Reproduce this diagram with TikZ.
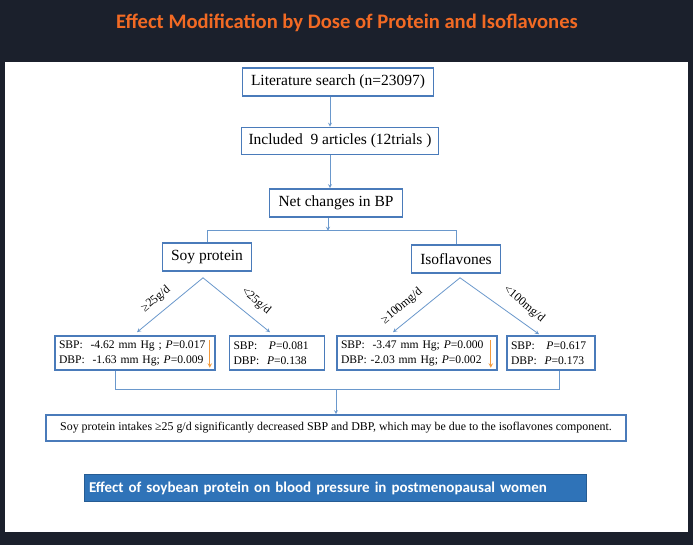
\documentclass[tikz,border=0pt]{standalone}
\usepackage{fontspec}
\setmainfont{Liberation Serif}
\newfontfamily\slidefont{Carlito}
\usepackage{tikz}
\usetikzlibrary{positioning,calc}
\definecolor{slidebg}{HTML}{1B202C}
\definecolor{titleorange}{HTML}{F26A24}
\definecolor{boxblue}{HTML}{4A7BBA}
\definecolor{lineblue}{HTML}{6A98CC}
\definecolor{bannerblue}{HTML}{2F73B8}
\definecolor{downorange}{HTML}{F39A3C}

\begin{document}
\begin{tikzpicture}[x=1pt,y=-1pt,
 box/.style={
      rectangle,
      draw=boxblue,
      line width=1.6pt,
      fill=white,
      align=center,
      inner sep=2pt,
      font=\fontsize{15.5}{17}\selectfont
   },
 res/.style={
      rectangle,
      draw=boxblue,
      line width=1.6pt,
      fill=white,
      align=left,
      inner xsep=4pt,
      inner ysep=1pt,
      minimum height=34pt,
      font=\fontsize{11.6}{15}\selectfont
   },
 dose/.style={
      font=\fontsize{12}{14}\selectfont,
      inner sep=0pt
   },
 line/.style={draw=lineblue, line width=0.8pt},
 arr/.style={line, -stealth},
 down/.style={draw=downorange, line width=1pt, -stealth}
 ]
 %slide
 \fill[slidebg] (0,0) rectangle (693,545);
 \fill[white] (5,62) rectangle (688,532);
 \useasboundingbox (0,0) rectangle (693,545);
 \node[font=\slidefont\bfseries\fontsize{20.6}{24}\selectfont, text=titleorange] (title) at (347,23) {Effect Modification by Dose of Protein and Isoflavones};

 %flow top
 \node[box, minimum width=191pt, minimum height=28pt] (lit) at (338,82) {Literature search (n=23097)};
 \node[box, minimum width=197pt, minimum height=27pt] (inc) at (340,141) {Included\ \ 9 articles (12trials )};
 \node[box, minimum width=133pt, minimum height=28pt] (net) at (336,203) {Net changes in BP};

 %groups
 \node[box, minimum width=89pt, minimum height=28pt] (soy) at (207,257) {Soy protein};
 \node[box, minimum width=89pt, minimum height=28pt] (iso) at (456,259) {Isoflavones};

 %results
 \node[res, text width=152pt] (b1) at (135,353) {SBP:\ \ -4.62 mm Hg ; \textit{P}=0.017\\DBP:\ \ -1.63 mm Hg; \textit{P}=0.009};
 \node[res, text width=87pt] (b2) at (277,353) {SBP:\ \ \ \textit{P}=0.081\\DBP:\ \ \textit{P}=0.138};
 \node[res, text width=152pt] (b3) at (417,353) {SBP:\ \ -3.47 mm Hg; \textit{P}=0.000\\DBP: -2.03 mm Hg; \textit{P}=0.002};
 \node[res, text width=80pt] (b4) at (551,353) {SBP:\ \ \ \textit{P}=0.617\\DBP:\ \ \textit{P}=0.173};

 %conclusion
 \node[box, minimum width=580pt, minimum height=26pt, font=\fontsize{11.9}{13}\selectfont] (conc) at (336,428) {Soy protein intakes ≥25 g/d significantly decreased SBP and DBP, which may be due to the isoflavones component.};
 \node[rectangle, fill=bannerblue, draw=bannerblue!80!black, line width=0.8pt, minimum width=502pt, minimum height=27pt, text width=492pt, align=left, text=white, font=\slidefont\bfseries\fontsize{15}{17}\selectfont] (banner) at (335,488) {Effect of soybean protein on blood pressure in postmenopausal women};

 %arrows
 \draw[arr] ($(lit.south)+(-8,0)$) coordinate (s1) -- (s1 |- inc.north);
 \draw[arr] ($(inc.south)+(-10,0)$) coordinate (s2) -- (s2 |- net.north);
 \coordinate (split) at ($(net.south)+(-8,13)$);
 \draw[arr] (net.south -| split) -- (split);
 \draw[line] (soy.north) -- (soy.north |- split) -- (iso.north |- split) -- (iso.north);

 \draw[arr] ($(soy.south)+(-4,6)$) coordinate (sp) -- ($(b1.north)+(2,-3)$);
 \draw[arr] (sp) -- ($(b2.north)+(-7,-3)$);
 \draw[arr] ($(iso.south)+(4,4)$) coordinate (ip) -- ($(b3.north)+(-24,-3)$);
 \draw[arr] (ip) -- ($(b4.north)+(-12,-1)$);

 %doses
 \node[dose, rotate=40] (d1) at (156,299) {≥25g/d};
 \node[dose, rotate=-40] (d2) at (256,301) {<25g/d};
 \node[dose, rotate=40] (d3) at (402,306) {≥100mg/d};
 \node[dose, rotate=-40] (d4) at (524,304) {<100mg/d};

 %decrease marks
 \draw[down] ($(b1.north east)+(-6,5)$) -- ($(b1.south east)+(-6,-3)$);
 \draw[down] ($(b3.north east)+(-7,5)$) -- ($(b3.south east)+(-7,-3)$);

 %merge
 \coordinate (mL) at ($(b1.south)+(-20,19)$);
 \coordinate (mR) at ($(b4.south)+(8,19)$);
 \draw[line] (mL |- b1.south) -- (mL) -- (mR) -- (mR |- b4.south);
 \draw[arr] (mL -| conc.north) -- (conc.north);
\end{tikzpicture}
\end{document}
